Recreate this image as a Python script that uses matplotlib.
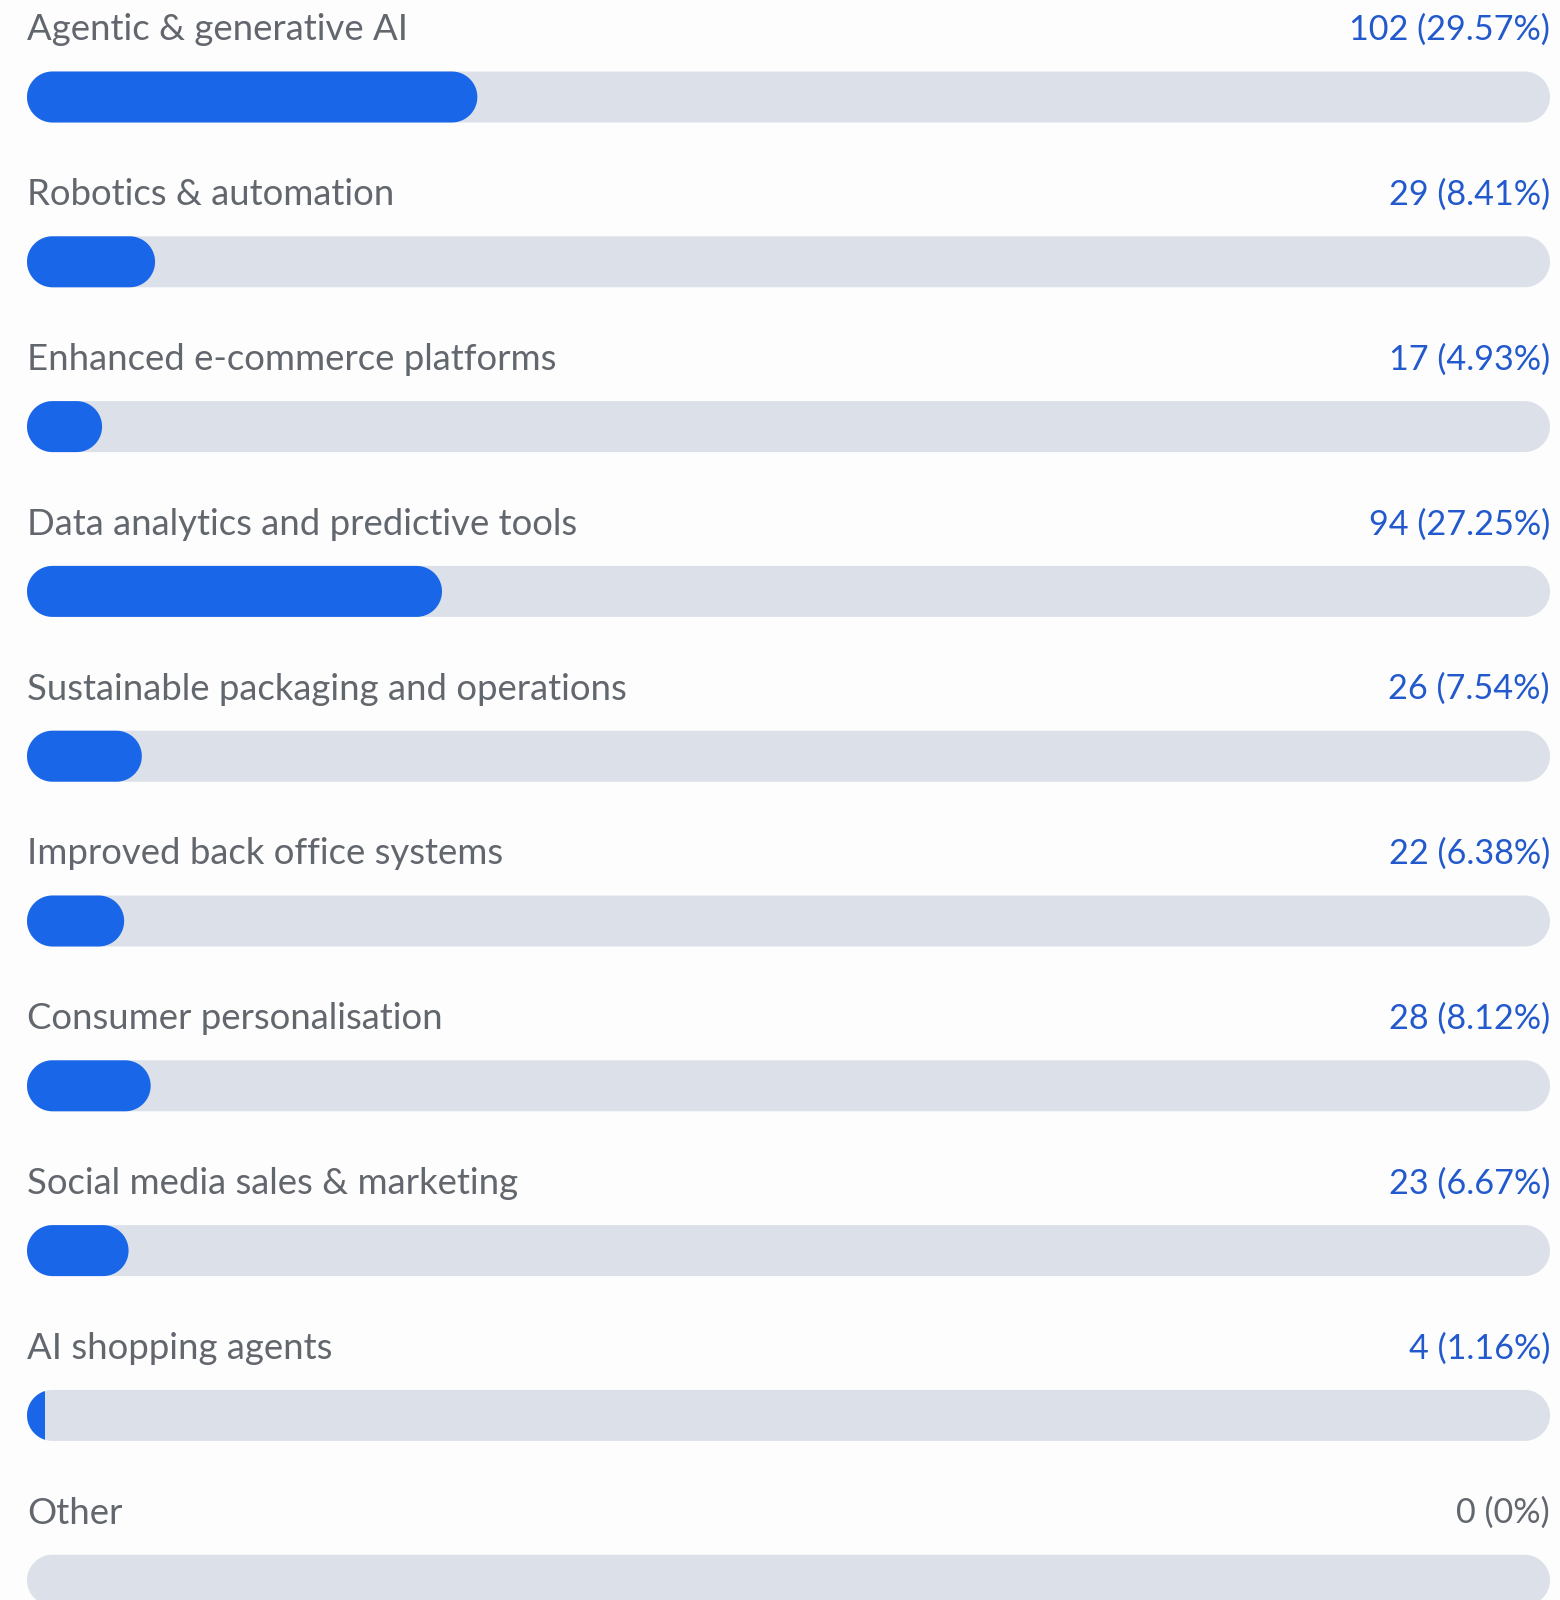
import numpy as np
import matplotlib
matplotlib.use("Agg")
import matplotlib.pyplot as plt
from matplotlib.patches import Polygon, Rectangle

# survey answers
categories = [
    "Agentic & generative AI",
    "Robotics & automation",
    "Enhanced e-commerce platforms",
    "Data analytics and predictive tools",
    "Sustainable packaging and operations",
    "Improved back office systems",
    "Consumer personalisation",
    "Social media sales & marketing",
    "AI shopping agents",
    "Other",
]
counts = [102, 29, 17, 94, 26, 22, 28, 23, 4, 0]
percents = [29.57, 8.41, 4.93, 27.25, 7.54, 6.38, 8.12, 6.67, 1.16, 0]

BLUE = "#1a66e8"
TRACK = "#dce1e9"
LABEL_GRAY = "#62666d"
VALUE_BLUE = "#2259cc"

plt.rcParams['font.family'] = ['Lato', 'DejaVu Sans']

W, H = 1560, 1600
fig = plt.figure(figsize=(W / 100, H / 100), dpi=100)
fig.patch.set_facecolor("#fdfdfe")

# x axis runs 0..100 % across the track, y axis is in pixel rows
left_px, right_px = 27, 1550
ax = fig.add_axes([left_px / W, 0, (right_px - left_px) / W, 1])
ax.set_xlim(0, 100)
ax.set_ylim(H, 0)
ax.axis("off")

px_per_x = (right_px - left_px) / 100.0
bar_h = 51
ry = bar_h / 2
rx = ry / px_per_x
row0, step = 97, 164.8


def pill(x0, x1, yc, **kw):
    # rounded-end bar: half circles at both ends, built in data units
    t = np.linspace(np.pi / 2, 3 * np.pi / 2, 40)
    left = np.column_stack([x0 + rx + rx * np.cos(t), yc + ry * np.sin(t)])
    right = np.column_stack([x1 - rx - rx * np.cos(t), yc - ry * np.sin(t)])
    return Polygon(np.vstack([left, right]), closed=True, **kw)


for i, (cat, n, p) in enumerate(zip(categories, counts, percents)):
    yc = row0 + i * step
    track = pill(0, 100, yc, fc=TRACK, ec="none")
    ax.add_patch(track)
    if p > 0:
        if p >= 2 * rx:
            ax.add_patch(pill(0, p, yc, fc=BLUE, ec="none"))
        else:
            fill = Rectangle((0, yc - ry), p, bar_h, fc=BLUE, ec="none")
            ax.add_patch(fill)
            fill.set_clip_path(track)

    ax.text(0, yc - 67, cat, ha="left", va="center", fontsize=26.3, color=LABEL_GRAY)
    vcol = VALUE_BLUE if n > 0 else LABEL_GRAY
    ax.text(100, yc - 67, f"{n} ({p:g}%)", ha="right", va="center", fontsize=24.6, color=vcol)

fig.savefig("out.png", dpi=100, facecolor=fig.get_facecolor())
